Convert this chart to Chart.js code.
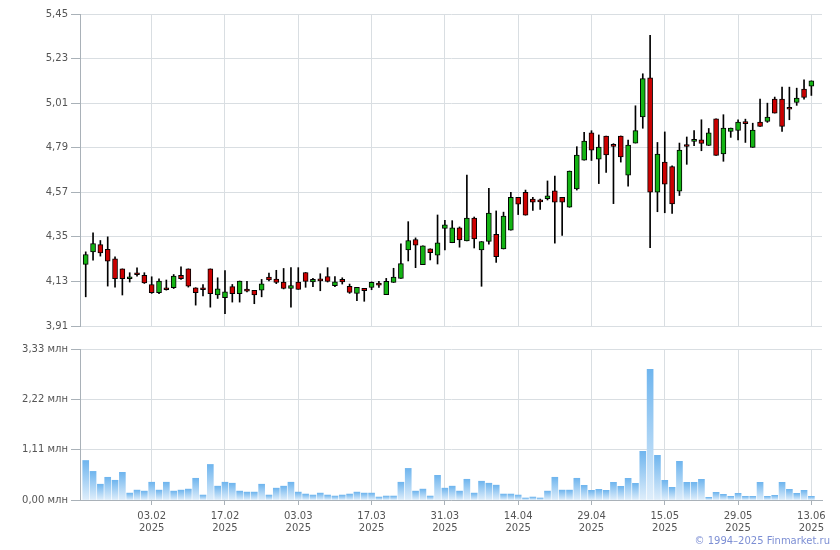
<!DOCTYPE html>
<html>
<head>
<meta charset="utf-8">
<script src="https://cdn.jsdelivr.net/npm/chart.js@4.4.1/dist/chart.umd.min.js"></script>
<style>
  html, body { margin: 0; padding: 0; background: #fff; }
  #wrap  { position: relative; width: 840px; height: 550px; overflow: hidden; }
  #price { position: absolute; left: 0; top: 0; }
  #vol   { position: absolute; left: 0; top: 336px; }
  #copy  { position: absolute; right: 10px; top: 535px; font: 10px "DejaVu Sans", sans-serif; color: #7d8fd4; }
</style>
</head>
<body>
<div id="wrap">
  <canvas id="price" width="840" height="340"></canvas>
  <canvas id="vol" width="840" height="214"></canvas>
  <div id="copy">© 1994–2025 Finmarket.ru</div>
</div>
<script>
// ── DATA (one value per trading day) ────────────────────────────────
const opens = [
  4.214, 4.276, 4.312, 4.288, 4.242, 4.192, 4.143, 4.173, 4.160, 4.115,
  4.074, 4.091, 4.099, 4.160, 4.192, 4.099, 4.099, 4.192, 4.063, 4.050,
  4.104, 4.069, 4.085, 4.086, 4.087, 4.151, 4.141, 4.127, 4.096, 4.127,
  4.174, 4.128, 4.134, 4.154, 4.109, 4.140, 4.106, 4.071, 4.096, 4.100,
  4.113, 4.065, 4.125, 4.145, 4.286, 4.337, 4.213, 4.291, 4.260, 4.392,
  4.321, 4.394, 4.330, 4.443, 4.285, 4.327, 4.363, 4.290, 4.383, 4.545,
  4.570, 4.536, 4.525, 4.539, 4.577, 4.545, 4.496, 4.586, 4.729, 4.863,
  4.734, 4.848, 4.799, 4.848, 4.654, 4.813, 4.942, 5.135, 4.570, 4.719,
  4.697, 4.575, 4.797, 4.821, 4.829, 4.801, 4.933, 4.759, 4.870, 4.875,
  4.910, 4.792, 4.916, 4.920, 5.030, 5.030, 4.981, 5.013, 5.079, 5.094
];
const highs = [
  4.276, 4.370, 4.332, 4.350, 4.251, 4.192, 4.173, 4.197, 4.173, 4.153,
  4.143, 4.137, 4.164, 4.202, 4.192, 4.099, 4.115, 4.192, 4.148, 4.183,
  4.115, 4.132, 4.130, 4.086, 4.140, 4.171, 4.185, 4.194, 4.198, 4.198,
  4.174, 4.145, 4.168, 4.198, 4.154, 4.148, 4.117, 4.101, 4.096, 4.128,
  4.130, 4.145, 4.195, 4.316, 4.425, 4.345, 4.306, 4.291, 4.458, 4.431,
  4.430, 4.399, 4.655, 4.448, 4.327, 4.590, 4.478, 4.472, 4.570, 4.545,
  4.581, 4.545, 4.536, 4.626, 4.650, 4.545, 4.675, 4.795, 4.866, 4.874,
  4.853, 4.848, 4.810, 4.848, 4.828, 4.997, 5.155, 5.345, 4.816, 4.868,
  4.701, 4.813, 4.843, 4.874, 4.928, 4.885, 4.933, 4.953, 4.887, 4.928,
  4.931, 4.911, 5.030, 5.010, 5.040, 5.089, 5.089, 5.084, 5.125, 5.120
];
const lows = [
  4.054, 4.235, 4.255, 4.107, 4.102, 4.063, 4.127, 4.156, 4.120, 4.071,
  4.069, 4.087, 4.095, 4.140, 4.102, 4.013, 4.058, 4.003, 4.046, 3.971,
  4.028, 4.028, 4.078, 4.020, 4.054, 4.133, 4.119, 4.093, 4.003, 4.091,
  4.101, 4.104, 4.084, 4.127, 4.104, 4.117, 4.071, 4.035, 4.032, 4.089,
  4.101, 4.065, 4.125, 4.145, 4.231, 4.198, 4.213, 4.236, 4.216, 4.285,
  4.321, 4.299, 4.330, 4.295, 4.106, 4.314, 4.224, 4.290, 4.383, 4.460,
  4.457, 4.480, 4.486, 4.532, 4.319, 4.357, 4.496, 4.581, 4.729, 4.727,
  4.613, 4.668, 4.514, 4.719, 4.600, 4.813, 4.886, 4.297, 4.474, 4.469,
  4.466, 4.554, 4.708, 4.800, 4.775, 4.801, 4.752, 4.723, 4.841, 4.829,
  4.816, 4.792, 4.895, 4.915, 4.961, 4.870, 4.928, 4.999, 5.030, 5.048
];
const closes = [
  4.263, 4.317, 4.271, 4.230, 4.143, 4.143, 4.153, 4.163, 4.123, 4.074,
  4.132, 4.089, 4.156, 4.143, 4.107, 4.074, 4.089, 4.069, 4.094, 4.079,
  4.069, 4.132, 4.082, 4.064, 4.118, 4.138, 4.125, 4.096, 4.110, 4.091,
  4.130, 4.140, 4.133, 4.130, 4.128, 4.128, 4.076, 4.101, 4.084, 4.125,
  4.112, 4.130, 4.151, 4.218, 4.332, 4.309, 4.306, 4.272, 4.321, 4.409,
  4.394, 4.335, 4.443, 4.340, 4.327, 4.467, 4.252, 4.452, 4.545, 4.511,
  4.457, 4.521, 4.523, 4.552, 4.521, 4.521, 4.675, 4.754, 4.823, 4.778,
  4.793, 4.754, 4.797, 4.744, 4.803, 4.874, 5.131, 4.570, 4.759, 4.610,
  4.512, 4.778, 4.796, 4.823, 4.811, 4.864, 4.752, 4.887, 4.887, 4.916,
  4.909, 4.877, 4.895, 4.941, 4.961, 4.895, 4.980, 5.035, 5.038, 5.120
];
// volume, millions
const volumes = [
  0.871, 0.631, 0.348, 0.501, 0.435, 0.610, 0.152, 0.218, 0.196, 0.392,
  0.218, 0.392, 0.196, 0.218, 0.240, 0.479, 0.109, 0.784, 0.305, 0.392,
  0.370, 0.196, 0.174, 0.174, 0.348, 0.109, 0.261, 0.305, 0.392, 0.174,
  0.131, 0.109, 0.152, 0.109, 0.087, 0.109, 0.131, 0.174, 0.152, 0.152,
  0.065, 0.087, 0.087, 0.392, 0.697, 0.196, 0.240, 0.087, 0.544, 0.261,
  0.305, 0.196, 0.457, 0.152, 0.414, 0.370, 0.327, 0.131, 0.131, 0.109,
  0.044, 0.065, 0.044, 0.196, 0.501, 0.218, 0.218, 0.479, 0.324, 0.213,
  0.235, 0.213, 0.390, 0.301, 0.478, 0.368, 1.074, 2.882, 0.985, 0.434,
  0.279, 0.853, 0.390, 0.390, 0.456, 0.059, 0.169, 0.125, 0.081, 0.147,
  0.081, 0.081, 0.390, 0.081, 0.103, 0.390, 0.235, 0.147, 0.213, 0.081
];

// bar index of each date label, and the labels
const tickIdx   = [9, 19, 29, 39, 49, 59, 69, 79, 89, 99];
const tickDates = ["03.02", "17.02", "03.03", "17.03", "31.03", "14.04", "29.04", "15.05", "29.05", "13.06"];
const tickYear  = "2025";

const priceTicks = [3.91, 4.13, 4.35, 4.57, 4.79, 5.01, 5.23, 5.45];
const volTicks   = [0, 1.11, 2.22, 3.33];

// ── STYLE ──────────────────────────────────────────────────────────
const GREEN = "#14b414";
const RED   = "#cc0000";
const GRID  = "#d9dee2";
const AXIS  = "#a9b1b8";
const TEXT  = "#555";
const FONT  = { family: "DejaVu Sans", size: 10 };

const X_MIN = -0.78;
const X_MAX = 100.45;

const comma = v => v.toFixed(2).replace(".", ",");

function xAxis(showLabels) {
  return {
    type: "linear",
    min: X_MIN,
    max: X_MAX,
    offset: false,
    afterBuildTicks: s => { s.ticks = tickIdx.map(v => ({ value: v })); },
    afterFit: s => { s.height = showLabels ? 50 : 0; },
    grid:   { offset: false, color: GRID, tickColor: AXIS, tickLength: 5, drawTicks: showLabels },
    border: { display: showLabels, color: AXIS },
    ticks: {
      display: showLabels,
      maxRotation: 0,
      autoSkip: false,
      padding: 5,
      color: TEXT,
      font: { ...FONT, lineHeight: 1.2 },
      callback: v => {
        const k = tickIdx.indexOf(v);
        return k < 0 ? "" : [tickDates[k], tickYear];
      }
    }
  };
}

function yAxis(ticks, fmt) {
  return {
    min: ticks[0],
    max: ticks[ticks.length - 1],
    afterBuildTicks: s => { s.ticks = ticks.map(v => ({ value: v })); },
    afterFit: s => { s.width = 80; },
    grid:   { color: GRID, tickColor: AXIS, tickLength: 9 },
    border: { color: AXIS },
    ticks:  { color: TEXT, font: FONT, padding: 3, autoSkip: false, callback: fmt }
  };
}

const common = {
  responsive: false,
  animation: false,
  events: [],
  plugins: { legend: { display: false }, tooltip: { enabled: false } }
};

// ── PRICE (candles = wick bar + body bar) ──────────────────────────
const wicks  = highs.map((h, i) => ({ x: i, y: [lows[i], h] }));
const bodies = opens.map((o, i) => ({ x: i, y: [o, closes[i]] }));

new Chart(document.getElementById("price"), {
  type: "bar",
  data: {
    datasets: [
      {
        data: wicks,
        order: 2,
        grouped: false,
        barThickness: 1,
        backgroundColor: "#000"
      },
      {
        data: bodies,
        order: 1,
        grouped: false,
        barThickness: 5,
        minBarLength: 2,
        borderWidth: 1,
        borderSkipped: false,
        borderColor: "#000",
        backgroundColor: opens.map((o, i) => closes[i] >= o ? GREEN : RED)
      }
    ]
  },
  options: {
    ...common,
    layout: { padding: { left: 0, right: 18, top: 14, bottom: 14 } },
    scales: {
      x: xAxis(false),
      y: yAxis(priceTicks, v => comma(v))
    }
  }
});

// ── VOLUME ─────────────────────────────────────────────────────────
function volFill(ctx) {
  const chart = ctx.chart;
  if (!chart.chartArea || ctx.type !== "data") return "#9ccbf3";
  const ys  = chart.scales.y;
  const top = ys.getPixelForValue(ctx.raw.y);
  const bot = ys.getPixelForValue(0);
  const g = chart.ctx.createLinearGradient(0, top, 0, bot);
  g.addColorStop(0, "#6fb5ee");
  g.addColorStop(1, "#dfeefb");
  return g;
}

new Chart(document.getElementById("vol"), {
  type: "bar",
  data: {
    datasets: [{
      data: volumes.map((v, i) => ({ x: i, y: v })),
      barThickness: 6,
      borderWidth: 0,
      backgroundColor: volFill
    }]
  },
  options: {
    ...common,
    layout: { padding: { left: 0, right: 18, top: 13, bottom: 0 } },
    scales: {
      x: xAxis(true),
      y: yAxis(volTicks, v => comma(v) + " млн")
    }
  }
});
</script>
</body>
</html>
